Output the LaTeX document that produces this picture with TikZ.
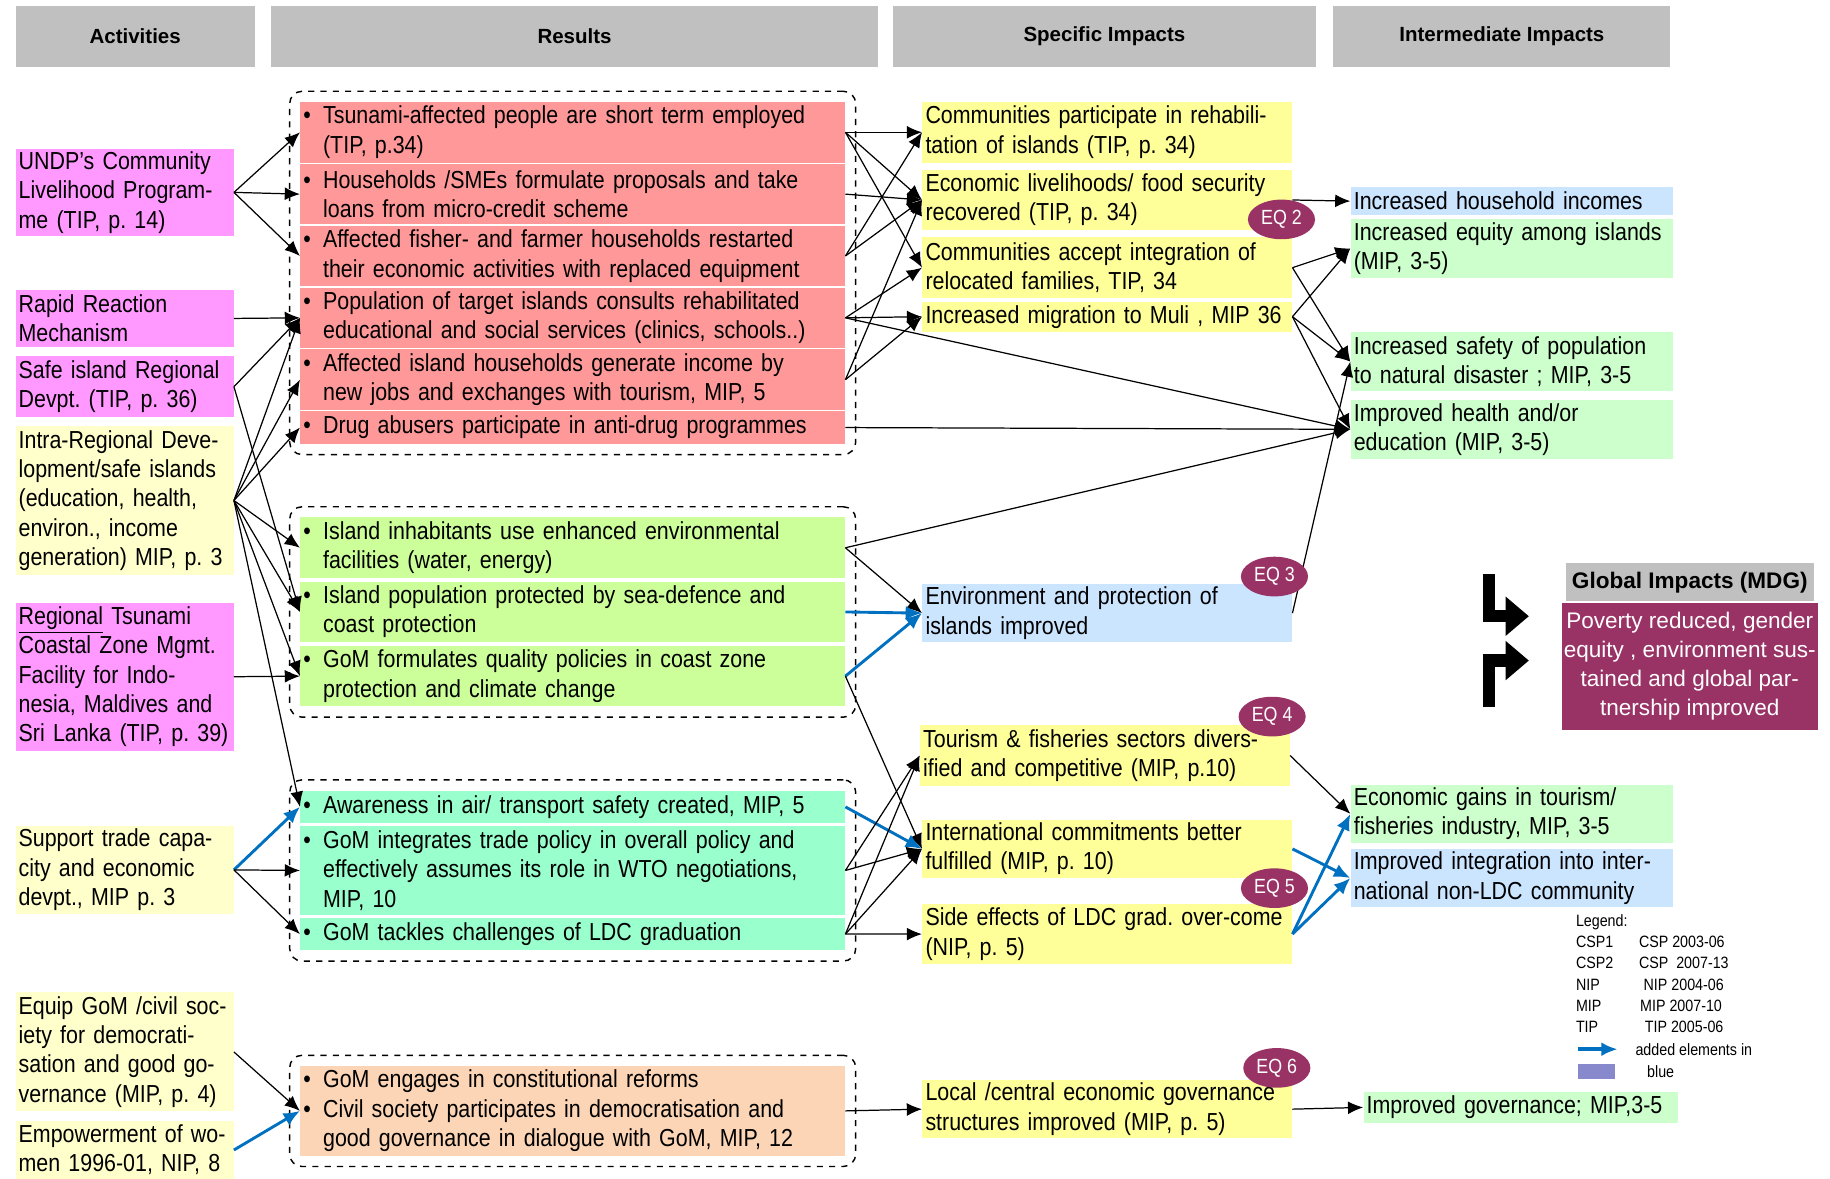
\documentclass[tikz,border=0pt]{standalone}
\usepackage{fontspec}
\setmainfont{Liberation Sans}[FakeStretch=0.87]
\newfontfamily\plainfont{Liberation Sans}
\usepackage{tikz}
\usetikzlibrary{arrows.meta,positioning,calc,shapes.geometric,fit}
\definecolor{hgray}{HTML}{C0C0C0}
\definecolor{mag}{HTML}{FF99FF}
\definecolor{lyel}{HTML}{FFFFCC}
\definecolor{rred}{HTML}{FF9999}
\definecolor{lgrn}{HTML}{CCFF99}
\definecolor{aqua}{HTML}{99FFCC}
\definecolor{peach}{HTML}{FBD5B5}
\definecolor{yel}{HTML}{FFFF99}
\definecolor{lblue}{HTML}{CCE5FF}
\definecolor{igrn}{HTML}{CCFFCC}
\definecolor{maroon}{HTML}{993366}
\definecolor{cblue}{HTML}{0070C0}
\definecolor{lpurp}{HTML}{8888CC}
\newcommand{\txt}{\fontsize{12}{14.3}\selectfont\frenchspacing}
\newcommand{\itm}{\makebox[0.8em][l]{\textbullet}}
\newcommand{\itmind}{\hspace*{0.8em}}
\tikzset{
  cell/.style={anchor=north west, inner xsep=1.5pt, inner ysep=0pt, align=left, font=\txt},
  hdr/.style={anchor=north west, fill=hgray, inner sep=0pt, minimum height=1.04cm, font=\fontsize{10}{12}\selectfont\plainfont\bfseries},
  act/.style={cell, text width=3.63cm},
  res/.style={cell, text width=9.23cm},
  spec/.style={cell, fill=yel, text width=6.23cm},
  inter/.style={cell, fill=igrn, text width=5.41cm},
  grp/.style={draw, dashed, rounded corners=6pt, line width=0.7pt, inner sep=5pt},
  eq/.style={ellipse, fill=maroon, text=white, minimum width=1.15cm, minimum height=0.68cm, inner sep=0pt, font=\fontsize{10}{12}\selectfont},
  flow/.style={-{Latex[length=2.6mm,width=2.2mm]}, line width=0.6pt},
  flowb/.style={-{Latex[length=2.8mm,width=2.4mm]}, line width=1.4pt, draw=cblue},
  bigarrow/.style={-{Triangle[length=4mm,width=6.5mm]}, line width=6pt},
  lgd/.style={inner sep=0pt, align=left, font=\fontsize{8}{10.4}\selectfont},
}
\begin{document}
\begin{tikzpicture}[x=0.02cm, y=-0.02cm]
  \path[use as bounding box, fill=white] (0,0) rectangle (1568,1010);
  % column headers
  \node[hdr, minimum width=4.10cm] (hact) at (13,5) {Activities};
  \node[hdr, minimum width=10.40cm] (hres) at (232,5) {Results};
  \node[hdr, minimum width=7.24cm] (hspec) at (765,5) {Specific Impacts};
  \node[hdr, minimum width=5.78cm] (hint) at (1142,5) {Intermediate Impacts};
  % activities
  \node[act, fill=mag, minimum height=1.50cm] (a1) at (13,127) {UNDP's Community\\Livelihood Program-\\me (TIP, p. 14)};
  \node[act, fill=mag, minimum height=0.98cm] (a2) at (13,248) {Rapid Reaction\\Mechanism};
  \node[act, fill=mag, minimum height=1.04cm] (a3) at (13,305) {Safe island Regional\\Devpt. (TIP, p. 36)};
  \node[act, fill=lyel, minimum height=2.54cm] (a4) at (13,365) {Intra-Regional Deve-\\lopment/safe islands\\(education, health,\\environ., income\\generation) MIP, p. 3};
  \node[act, fill=mag, minimum height=2.54cm] (a5) at (13,516) {\underline{Regional} Tsunami\\Coastal Zone Mgmt.\\Facility for Indo-\\nesia, Maldives and\\Sri Lanka (TIP, p. 39)};
  \node[act, fill=lyel, minimum height=1.52cm] (a6) at (13,707) {Support trade capa-\\city and economic\\devpt., MIP p. 3};
  \node[act, fill=lyel, minimum height=2.04cm] (a7) at (13,850) {Equip GoM /civil soc-\\iety for democrati-\\sation and good go-\\vernance (MIP, p. 4)};
  \node[act, fill=lyel, minimum height=1.00cm] (a8) at (13,960) {Empowerment of wo-\\men 1996-01, NIP, 8};
  % results
  \node[res, fill=rred, minimum height=1.04cm] (r1) at (257,87) {\itm Tsunami-affected people are short term employed\\\itmind (TIP, p.34)};
  \node[res, fill=rred, minimum height=1.04cm] (r2) at (257,140) {\itm Households /SMEs formulate proposals and take\\\itmind loans from micro-credit scheme};
  \node[res, fill=rred, minimum height=1.04cm] (r3) at (257,193) {\itm Affected fisher- and farmer households restarted\\\itmind their economic activities with replaced equipment};
  \node[res, fill=rred, minimum height=1.04cm] (r4) at (257,246) {\itm Population of target islands consults rehabilitated\\\itmind educational and social services (clinics, schools..)};
  \node[res, fill=rred, minimum height=1.04cm] (r5) at (257,299) {\itm Affected island households generate income by\\\itmind new jobs and exchanges with tourism, MIP, 5};
  \node[res, fill=rred, minimum height=0.56cm] (r6) at (257,352) {\itm Drug abusers participate in anti-drug programmes};
  \node[res, fill=lgrn, minimum height=1.04cm] (r7) at (257,443) {\itm Island inhabitants use enhanced environmental\\\itmind facilities (water, energy)};
  \node[res, fill=lgrn, minimum height=1.04cm] (r8) at (257,498) {\itm Island population protected by sea-defence and\\\itmind coast protection};
  \node[res, fill=lgrn, minimum height=1.04cm] (r9) at (257,553) {\itm GoM formulates quality policies in coast zone\\\itmind protection and climate change};
  \node[res, fill=aqua, minimum height=0.56cm] (r10) at (257,677) {\itm Awareness in air/ transport safety created, MIP, 5};
  \node[res, fill=aqua, minimum height=1.54cm] (r11) at (257,707) {\itm GoM integrates trade policy in overall policy and\\\itmind effectively assumes its role in WTO negotiations,\\\itmind MIP, 10};
  \node[res, fill=aqua, minimum height=0.56cm] (r12) at (257,786) {\itm GoM tackles challenges of LDC graduation};
  \node[res, fill=peach, minimum height=1.54cm] (r13) at (257,913) {\itm GoM engages in constitutional reforms\\\itm Civil society participates in democratisation and\\\itmind good governance in dialogue with GoM, MIP, 12};
  % result groups
  \node[grp, fit=(r1)(r6)] (g1) {};
  \node[grp, fit=(r7)(r9)] (g2) {};
  \node[grp, fit=(r10)(r12)] (g3) {};
  \node[grp, fit=(r13)] (g4) {};
  % specific impacts
  \node[spec, minimum height=1.04cm] (s1) at (790,87) {Communities participate in rehabili-\\tation of islands (TIP, p. 34)};
  \node[spec, minimum height=1.04cm] (s2) at (790,145) {Economic livelihoods/ food security\\recovered (TIP, p. 34)};
  \node[spec, minimum height=1.04cm] (s3) at (790,203) {Communities accept integration of\\relocated families, TIP, 34};
  \node[spec, minimum height=0.52cm] (s4) at (790,258) {Increased migration to Muli , MIP 36};
  \node[spec, fill=lblue, minimum height=1.00cm] (s5) at (790,500) {Environment and protection of\\islands improved};
  \node[spec, minimum height=1.04cm] (s6) at (788,621) {Tourism \& fisheries sectors divers-\\ified and competitive (MIP, p.10)};
  \node[spec, minimum height=1.00cm] (s7) at (790,702) {International commitments better\\fulfilled (MIP, p. 10)};
  \node[spec, minimum height=1.04cm] (s8) at (790,774) {Side effects of LDC grad. over-come\\(NIP, p. 5)};
  \node[spec, minimum height=1.00cm] (s9) at (790,925) {Local /central economic governance\\structures improved (MIP, p. 5)};
  % intermediate impacts
  \node[inter, fill=lblue, minimum height=0.48cm] (i1) at (1157,160) {Increased household incomes};
  \node[inter, minimum height=1.02cm] (i2) at (1157,187) {Increased equity among islands\\(MIP, 3-5)};
  \node[inter, minimum height=1.02cm] (i3) at (1157,284) {Increased safety of population\\to natural disaster ; MIP, 3-5};
  \node[inter, minimum height=1.02cm] (i4) at (1157,342) {Improved health and/or\\education (MIP, 3-5)};
  \node[inter, minimum height=1.00cm] (i5) at (1157,672) {Economic gains in tourism/\\fisheries industry, MIP, 3-5};
  \node[inter, fill=lblue, minimum height=1.00cm] (i6) at (1157,727) {Improved integration into inter-\\national non-LDC community};
  \node[inter, text width=5.29cm, minimum height=0.54cm] (i7) at (1168,935) {Improved governance; MIP,3-5};
  % global impacts
  \node[hdr, minimum width=4.26cm, minimum height=0.66cm, font=\fontsize{11}{13}\selectfont\plainfont\bfseries] (ghdr) at (1341,482) {Global Impacts (MDG)};
  \node[anchor=north west, fill=maroon, text=white, minimum width=4.38cm, minimum height=2.18cm, inner sep=0pt, align=center, font=\fontsize{11}{14.2}\selectfont\plainfont] (gbody) at (1338,516) {Poverty reduced, gender\\equity , environment sus-\\tained and global par-\\tnership improved};
  \coordinate (ba1) at (1276,492);
  \coordinate (ba2) at (1310,528);
  \coordinate (bb1) at (1276,606);
  \coordinate (bb2) at (1310,566);
  \draw[bigarrow] (ba1) |- (ba2);
  \draw[bigarrow] (bb1) |- (bb2);
  % activities -> results
  \draw[flow] (a1.east) -- (r1.west);
  \draw[flow] (a1.east) -- (r2.west);
  \draw[flow] (a1.east) -- (r3.west);
  \draw[flow] (a2.east) -- (r4.west);
  \draw[flow] (a3.east) -- (r4.west);
  \draw[flow] (a3.east) -- (r8.west);
  \foreach \r in {r4,r5,r6,r7,r8,r9,r10}
    \draw[flow] (a4.east) -- (\r.west);
  \draw[flow] (a5.east) -- (r9.west);
  \draw[flowb] (a6.east) -- (r10.west);
  \draw[flow] (a6.east) -- (r11.west);
  \draw[flow] (a6.east) -- (r12.west);
  \draw[flow] (a7.east) -- (r13.west);
  \draw[flowb] (a8.east) -- (r13.west);
  % results -> impacts
  \draw[flow] (r1.east) -- (s1.west);
  \draw[flow] (r1.east) -- (s2.west);
  \draw[flow] (r1.east) -- (s3.west);
  \draw[flow] (r2.east) -- (s2.west);
  \draw[flow] (r3.east) -- (s1.west);
  \draw[flow] (r3.east) -- (s2.west);
  \draw[flow] (r4.east) -- (s3.west);
  \draw[flow] (r4.east) -- (s4.west);
  \draw[flow] (r4.east) -- (i4.west);
  \draw[flow] (r5.east) -- (s2.west);
  \draw[flow] (r5.east) -- (s4.west);
  \draw[flow] (r6.east) -- (i4.west);
  \draw[flow] (r7.east) -- (i4.west);
  \draw[flow] (r7.east) -- (s5.west);
  \draw[flowb] (r8.east) -- (s5.west);
  \draw[flowb] (r9.east) -- (s5.west);
  \draw[flow] (r9.east) -- (s7.west);
  \draw[flowb] (r10.east) -- (s7.west);
  \draw[flow] (r11.east) -- (s6.west);
  \draw[flow] (r11.east) -- (s7.west);
  \draw[flow] (r12.east) -- (s6.west);
  \draw[flow] (r12.east) -- (s7.west);
  \draw[flow] (r12.east) -- (s8.west);
  \draw[flow] (r13.east) -- (s9.west);
  % specific -> intermediate
  \draw[flow] (s2.east) -- (i1.west);
  \draw[flow] (s3.east) -- (i2.west);
  \draw[flow] (s3.east) -- (i3.west);
  \draw[flow] (s4.east) -- (i2.west);
  \draw[flow] (s4.east) -- (i3.west);
  \draw[flow] (s4.east) -- (i4.west);
  \draw[flow] (s5.east) -- (i3.west);
  \draw[flow] (s6.east) -- (i5.west);
  \draw[flowb] (s7.east) -- (i6.west);
  \draw[flowb] (s8.east) -- (i5.west);
  \draw[flowb] (s8.east) -- (i6.west);
  \draw[flow] (s9.east) -- (i7.west);
  % evaluation questions
  \node[eq] (eq2) at (1098,188) {EQ 2};
  \node[eq] (eq3) at (1092,494) {EQ 3};
  \node[eq] (eq4) at (1090,614) {EQ 4};
  \node[eq] (eq5) at (1092,761) {EQ 5};
  \node[eq] (eq6) at (1094,915) {EQ 6};
  % legend
  \node[lgd, anchor=north west] (lgd) at (1350,783) {Legend:\\\makebox[1.08cm][l]{CSP1}CSP 2003-06\\\makebox[1.08cm][l]{CSP2}CSP\ \ 2007-13\\\makebox[1.16cm][l]{NIP}NIP 2004-06\\\makebox[1.10cm][l]{MIP}MIP 2007-10\\\makebox[1.18cm][l]{TIP}TIP 2005-06};
  \coordinate (la) at (1352,899);
  \coordinate (lb) at (1386,899);
  \draw[flowb, line width=1.8pt] (la) -- (lb);
  \node[lgd, anchor=west] (lgt1) at (1401,899) {added elements in};
  \node[anchor=north west, fill=lpurp, minimum width=0.62cm, minimum height=0.26cm, inner sep=0pt] (lgbox) at (1352,911) {};
  \node[lgd, anchor=west] (lgt2) at (1411,918) {blue};
\end{tikzpicture}
\end{document}
